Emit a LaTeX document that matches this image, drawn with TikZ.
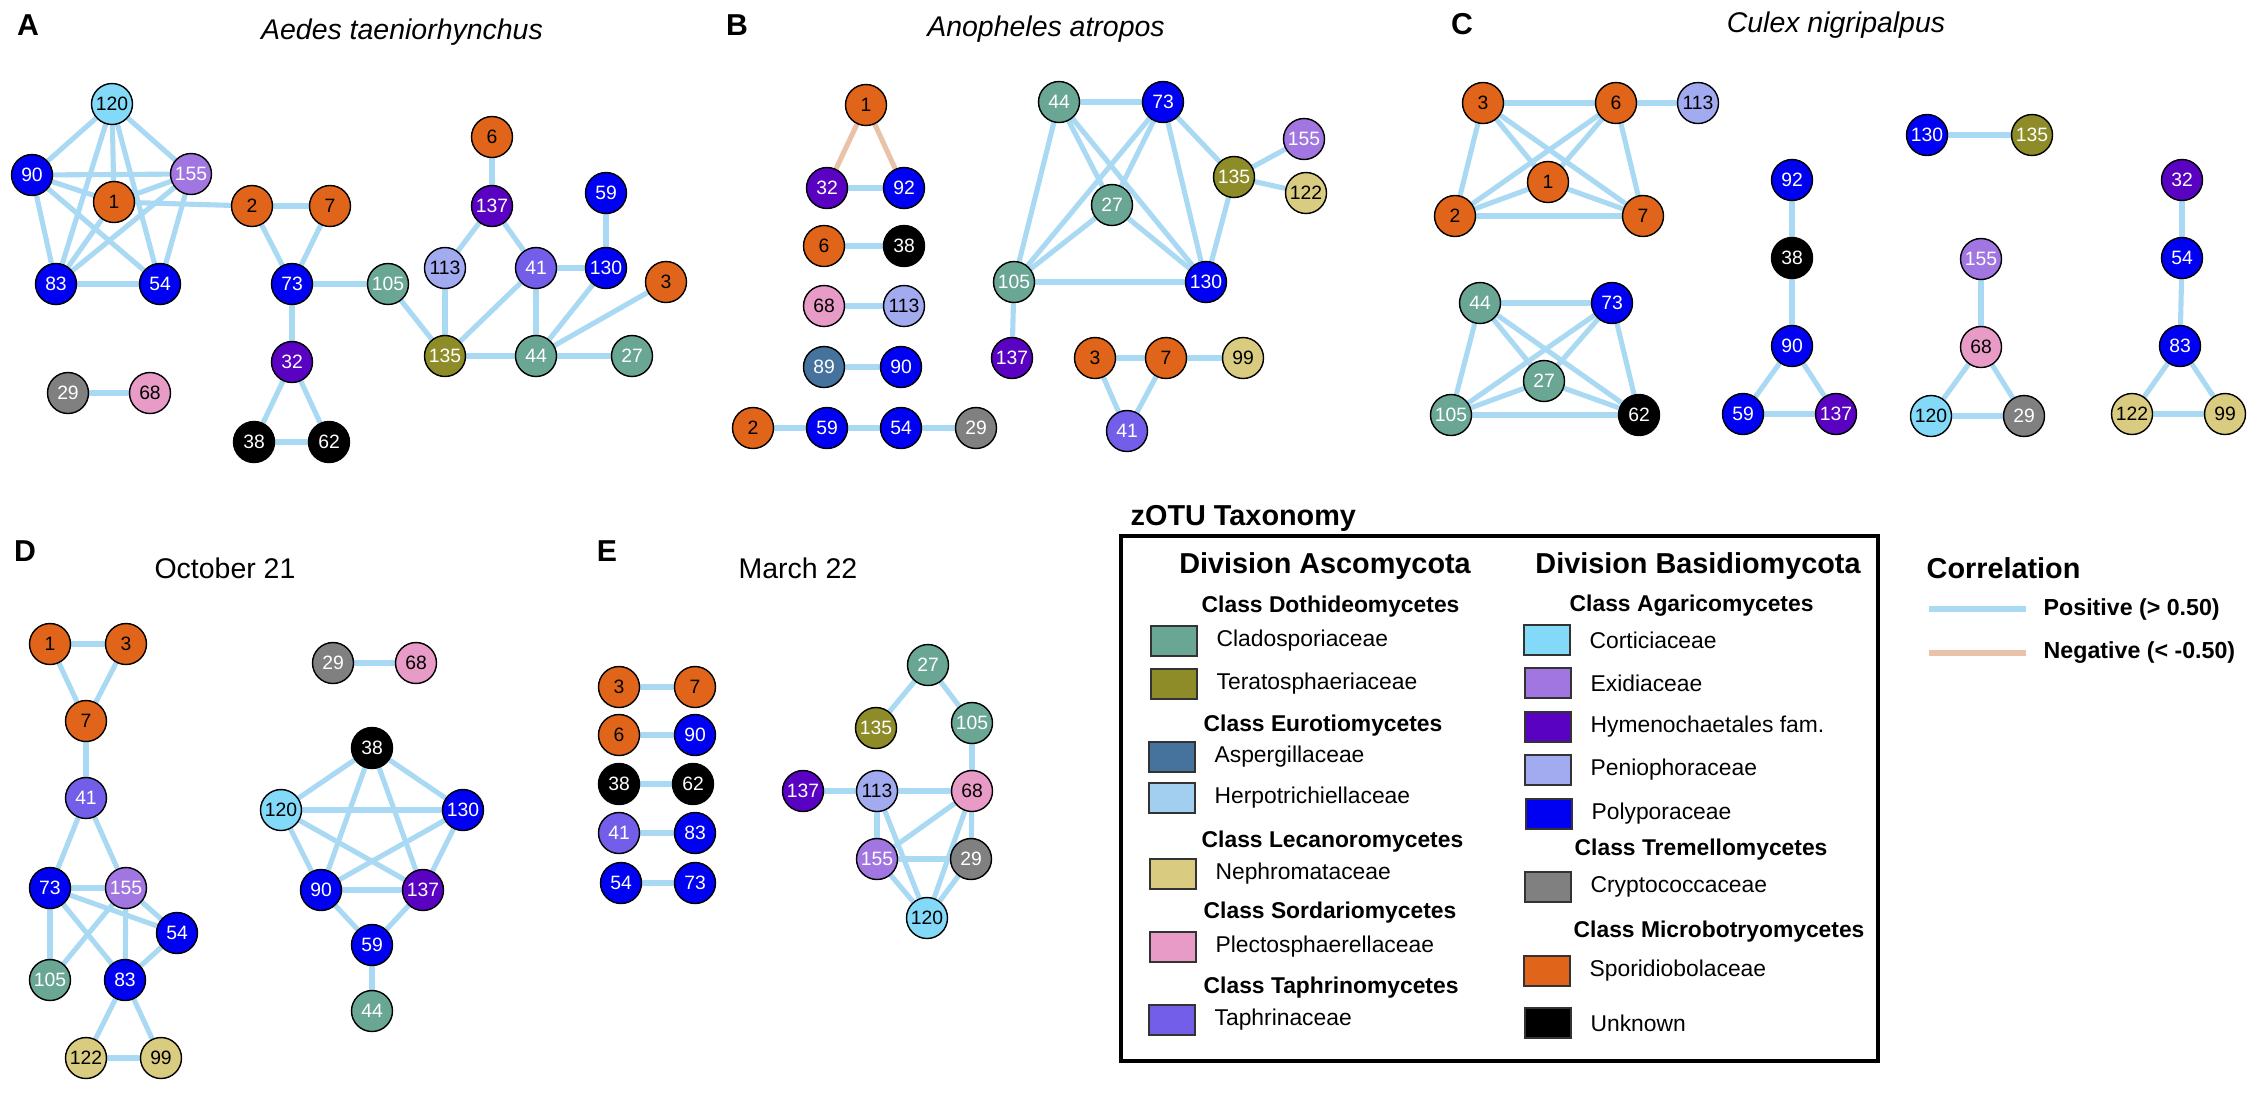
\documentclass[tikz,border=0pt]{standalone}
\usepackage{fontspec}
\setmainfont{Liberation Sans}
\usetikzlibrary{positioning,backgrounds}
\definecolor{cClad}{HTML}{6AA694}
\definecolor{cTera}{HTML}{8E8C28}
\definecolor{cAspe}{HTML}{45739E}
\definecolor{cHerp}{HTML}{A2CFF0}
\definecolor{cNeph}{HTML}{D9CC80}
\definecolor{cPlec}{HTML}{E99BC8}
\definecolor{cTaph}{HTML}{725EE8}
\definecolor{cCort}{HTML}{82D9F8}
\definecolor{cExid}{HTML}{A276E0}
\definecolor{cHyme}{HTML}{5A02C2}
\definecolor{cPeni}{HTML}{A2ABF0}
\definecolor{cPoly}{HTML}{0000F2}
\definecolor{cCryp}{HTML}{808080}
\definecolor{cSpor}{HTML}{E0651A}
\definecolor{cPos}{HTML}{A9D9F3}
\definecolor{cNeg}{HTML}{EAC2AA}
\newcommand\otufont{\fontsize{5.5}{6}\selectfont}
\tikzset{
  otu/.style={circle, draw=black, line width=0.4pt, minimum size=4.1mm, inner sep=0pt, font=\otufont},
  clad/.style={otu, fill=cClad, text=white},
  tera/.style={otu, fill=cTera, text=white},
  aspe/.style={otu, fill=cAspe, text=white},
  neph/.style={otu, fill=cNeph, text=black},
  plec/.style={otu, fill=cPlec, text=black},
  taph/.style={otu, fill=cTaph, text=white},
  cort/.style={otu, fill=cCort, text=black},
  exid/.style={otu, fill=cExid, text=white},
  hyme/.style={otu, fill=cHyme, text=white},
  peni/.style={otu, fill=cPeni, text=black},
  poly/.style={otu, fill=cPoly, text=white},
  cryp/.style={otu, fill=cCryp, text=white},
  spor/.style={otu, fill=cSpor, text=black},
  unkn/.style={otu, fill=black, text=white},
  posedge/.style={draw=cPos, line width=1.45pt},
  negedge/.style={draw=cNeg, line width=1.45pt},
  panel/.style={font=\fontsize{8.6}{10}\selectfont\bfseries},
  ttl/.style={font=\fontsize{8.1}{10}\selectfont\itshape},
  datettl/.style={font=\fontsize{8.1}{10}\selectfont},
  divtxt/.style={font=\fontsize{8.2}{10}\selectfont\bfseries, inner xsep=0pt},
  clstxt/.style={font=\fontsize{6.5}{8}\selectfont\bfseries, anchor=west, inner xsep=0pt},
  famtxt/.style={font=\fontsize{6.5}{8}\selectfont, inner xsep=0pt, right=1.8mm of #1},
  swatch/.style={draw=black!80, line width=0.5pt, minimum width=4.6mm, minimum height=3mm, inner sep=0pt},
  corrtxt/.style={font=\fontsize{6.6}{8}\selectfont\bfseries, anchor=west, inner xsep=0pt},
}

\begin{document}
\begin{tikzpicture}[x=0.1mm, y=-0.1mm]
\useasboundingbox (0,0) rectangle (2262,1092);

\node[panel] (labA) at (28,25) {A};
\node[ttl] (ttlA) at (402,32) {Aedes taeniorhynchus};
\node[cort] (a120) at (112,104) {120};
\node[poly] (a90) at (32,175) {90};
\node[exid] (a155) at (191,174) {155};
\node[spor] (a1) at (114,202) {1};
\node[spor] (a2) at (252,206) {2};
\node[spor] (a7) at (330,206) {7};
\node[poly] (a83) at (56,284) {83};
\node[poly] (a54) at (160,284) {54};
\node[poly] (a73) at (292,284) {73};
\node[clad] (a105) at (388,284) {105};
\node[spor] (a6) at (492,137) {6};
\node[hyme] (a137) at (492,206) {137};
\node[poly] (a59) at (606,193) {59};
\node[peni] (a113) at (445,268) {113};
\node[taph] (a41) at (536,268) {41};
\node[poly] (a130) at (606,268) {130};
\node[spor] (a3) at (666,282) {3};
\node[tera] (a135) at (445,356) {135};
\node[clad] (a44) at (536,356) {44};
\node[clad] (a27) at (632,356) {27};
\node[hyme] (a32) at (292,362) {32};
\node[cryp] (a29) at (68,393) {29};
\node[plec] (a68) at (150,393) {68};
\node[unkn] (a38) at (254,442) {38};
\node[unkn] (a62) at (329,442) {62};

\node[panel] (labB) at (737,25) {B};
\node[ttl] (ttlB) at (1046,29) {Anopheles atropos};
\node[spor] (b1) at (866,105) {1};
\node[hyme] (b32) at (827,188) {32};
\node[poly] (b92) at (904,188) {92};
\node[spor] (b6) at (824,246) {6};
\node[unkn] (b38) at (904,246) {38};
\node[plec] (b68) at (824,306) {68};
\node[peni] (b113) at (904,306) {113};
\node[aspe] (b89) at (824,367) {89};
\node[poly] (b90) at (901,367) {90};
\node[spor] (b2) at (753,428) {2};
\node[poly] (b59) at (827,428) {59};
\node[poly] (b54) at (901,428) {54};
\node[cryp] (b29) at (976,428) {29};
\node[clad] (b44) at (1059,102) {44};
\node[poly] (b73) at (1163,102) {73};
\node[clad] (b27) at (1112,205) {27};
\node[tera] (b135) at (1234,177) {135};
\node[exid] (b155) at (1304,139) {155};
\node[neph] (b122) at (1306,193) {122};
\node[clad] (b105) at (1014,282) {105};
\node[poly] (b130) at (1206,282) {130};
\node[hyme] (b137) at (1012,358) {137};
\node[spor] (b3) at (1095,358) {3};
\node[spor] (b7) at (1166,358) {7};
\node[neph] (b99) at (1243,358) {99};
\node[taph] (b41) at (1127,431) {41};

\node[panel] (labC) at (1462,24) {C};
\node[ttl] (ttlC) at (1836,25) {Culex nigripalpus};
\node[spor] (c3) at (1483,103) {3};
\node[spor] (c6) at (1616,103) {6};
\node[peni] (c113) at (1698,103) {113};
\node[spor] (c1) at (1548,182) {1};
\node[spor] (c2) at (1455,216) {2};
\node[spor] (c7) at (1643,216) {7};
\node[poly] (c130) at (1927,135) {130};
\node[tera] (c135) at (2032,135) {135};
\node[poly] (c92) at (1792,180) {92};
\node[unkn] (c38) at (1792,258) {38};
\node[poly] (c90) at (1792,346) {90};
\node[poly] (c59) at (1743,414) {59};
\node[hyme] (c137) at (1836,414) {137};
\node[exid] (c155) at (1981,259) {155};
\node[plec] (c68) at (1981,347) {68};
\node[cort] (c120) at (1931,416) {120};
\node[cryp] (c29) at (2024,416) {29};
\node[hyme] (c32) at (2182,180) {32};
\node[poly] (c54) at (2182,258) {54};
\node[poly] (c83) at (2180,346) {83};
\node[neph] (c122) at (2132,414) {122};
\node[neph] (c99) at (2225,414) {99};
\node[clad] (c44) at (1480,303) {44};
\node[poly] (c73) at (1612,303) {73};
\node[clad] (c27) at (1544,381) {27};
\node[clad] (c105) at (1451,415) {105};
\node[unkn] (c62) at (1639,415) {62};

\node[panel] (labD) at (25,551) {D};
\node[datettl] (ttlD) at (225,568) {October 21};
\node[spor] (d1) at (50,644) {1};
\node[spor] (d3) at (126,644) {3};
\node[spor] (d7) at (86,721) {7};
\node[taph] (d41) at (86,798) {41};
\node[poly] (d73) at (50,888) {73};
\node[exid] (d155) at (126,888) {155};
\node[poly] (d54) at (177,933) {54};
\node[clad] (d105) at (50,980) {105};
\node[poly] (d83) at (125,980) {83};
\node[neph] (d122) at (86,1058) {122};
\node[neph] (d99) at (161,1058) {99};
\node[cryp] (d29) at (333,663) {29};
\node[plec] (d68) at (416,663) {68};
\node[unkn] (d38) at (372,748) {38};
\node[cort] (d120) at (281,810) {120};
\node[poly] (d130) at (463,810) {130};
\node[poly] (d90) at (321,890) {90};
\node[hyme] (d137) at (423,890) {137};
\node[poly] (d59) at (372,945) {59};
\node[clad] (d44) at (372,1011) {44};

\node[panel] (labE) at (607,551) {E};
\node[datettl] (ttlE) at (798,568) {March 22};
\node[spor] (e3) at (619,687) {3};
\node[spor] (e7) at (695,687) {7};
\node[spor] (e6) at (619,735) {6};
\node[poly] (e90) at (695,735) {90};
\node[unkn] (e38) at (619,784) {38};
\node[unkn] (e62) at (693,784) {62};
\node[taph] (e41) at (619,833) {41};
\node[poly] (e83) at (695,833) {83};
\node[poly] (e54) at (621,883) {54};
\node[poly] (e73) at (695,883) {73};
\node[clad] (e27) at (928,665) {27};
\node[tera] (e135) at (876,728) {135};
\node[clad] (e105) at (972,723) {105};
\node[hyme] (e137) at (803,791) {137};
\node[peni] (e113) at (877,791) {113};
\node[plec] (e68) at (972,791) {68};
\node[exid] (e155) at (877,859) {155};
\node[cryp] (e29) at (971,859) {29};
\node[cort] (e120) at (927,918) {120};

\begin{scope}[on background layer]
\foreach \u/\v in {a120/a90, a120/a155, a120/a1, a120/a83, a120/a54, a90/a155, a90/a1, a90/a83, a90/a54,
  a155/a1, a155/a83, a155/a54, a1/a83, a83/a54, a1/a2, a2/a7, a2/a73, a7/a73, a73/a105, a73/a32,
  a32/a38, a32/a62, a38/a62, a105/a135, a113/a135, a113/a137, a137/a6, a137/a41, a41/a130, a130/a59,
  a41/a135, a41/a44, a135/a44, a44/a27, a44/a130, a44/a3, a29/a68}
  \draw[posedge] (\u) -- (\v);
\foreach \u/\v in {b32/b92, b6/b38, b68/b113, b89/b90, b2/b59, b59/b54, b54/b29, b44/b73, b44/b105,
  b44/b27, b44/b130, b73/b105, b73/b27, b73/b130, b73/b135, b135/b130, b27/b105, b27/b130, b105/b130,
  b105/b137, b135/b155, b135/b122, b3/b7, b7/b99, b3/b41, b7/b41}
  \draw[posedge] (\u) -- (\v);
\draw[negedge] (b1) -- (b32) (b1) -- (b92);
\foreach \u/\v in {c3/c6, c3/c1, c3/c2, c3/c7, c6/c1, c6/c2, c6/c7, c1/c2, c1/c7, c2/c7, c6/c113,
  c130/c135, c92/c38, c38/c90, c90/c59, c90/c137, c59/c137, c155/c68, c68/c120, c68/c29, c120/c29,
  c32/c54, c54/c83, c83/c122, c83/c99, c122/c99, c44/c73, c44/c27, c44/c105, c44/c62, c73/c27,
  c73/c105, c73/c62, c27/c105, c27/c62, c105/c62}
  \draw[posedge] (\u) -- (\v);
\foreach \u/\v in {d1/d3, d1/d7, d3/d7, d7/d41, d41/d73, d41/d155, d73/d155, d73/d54, d73/d105,
  d73/d83, d155/d105, d155/d83, d155/d54, d54/d83, d83/d122, d83/d99, d122/d99, d29/d68,
  d38/d120, d38/d130, d38/d90, d38/d137, d120/d130, d120/d90, d120/d137, d130/d90, d130/d137,
  d90/d137, d90/d59, d137/d59, d59/d44}
  \draw[posedge] (\u) -- (\v);
\foreach \u/\v in {e3/e7, e6/e90, e38/e62, e41/e83, e54/e73, e27/e135, e27/e105, e105/e68,
  e137/e113, e113/e68, e113/e155, e113/e120, e68/e155, e68/e120, e68/e29, e155/e29, e155/e120, e29/e120}
  \draw[posedge] (\u) -- (\v);
\end{scope}

\node[divtxt, anchor=west] (taxttl) at (1130,518) {zOTU Taxonomy};
\draw[line width=1pt] (1121,536) rectangle (1878,1061);
\node[divtxt] (divAsc) at (1325,566) {Division Ascomycota};
\node[divtxt] (divBas) at (1698,566) {Division Basidiomycota};

\node[clstxt] (clDoth) at (1201,607) {Class Dothideomycetes};
\node[swatch, fill=cClad] (sClad) at (1174,641) {};
\node[famtxt=sClad] {Cladosporiaceae};
\node[swatch, fill=cTera] (sTera) at (1174,684) {};
\node[famtxt=sTera] {Teratosphaeriaceae};
\node[clstxt] (clEuro) at (1203,726) {Class Eurotiomycetes};
\node[swatch, fill=cAspe] (sAspe) at (1172,757) {};
\node[famtxt=sAspe] {Aspergillaceae};
\node[swatch, fill=cHerp] (sHerp) at (1172,798) {};
\node[famtxt=sHerp] {Herpotrichiellaceae};
\node[clstxt] (clLeca) at (1201,842) {Class Lecanoromycetes};
\node[swatch, fill=cNeph] (sNeph) at (1173,874) {};
\node[famtxt=sNeph] {Nephromataceae};
\node[clstxt] (clSord) at (1203,913) {Class Sordariomycetes};
\node[swatch, fill=cPlec] (sPlec) at (1173,947) {};
\node[famtxt=sPlec] {Plectosphaerellaceae};
\node[clstxt] (clTaph) at (1203,988) {Class Taphrinomycetes};
\node[swatch, fill=cTaph] (sTaph) at (1172,1020) {};
\node[famtxt=sTaph] {Taphrinaceae};

\node[clstxt] (clAgar) at (1569,606) {Class Agaricomycetes};
\node[swatch, fill=cCort] (sCort) at (1547,640) {};
\node[famtxt=sCort] {Corticiaceae};
\node[swatch, fill=cExid] (sExid) at (1548,683) {};
\node[famtxt=sExid] {Exidiaceae};
\node[swatch, fill=cHyme] (sHyme) at (1548,727) {};
\node[famtxt=sHyme] {Hymenochaetales fam.};
\node[swatch, fill=cPeni] (sPeni) at (1548,770) {};
\node[famtxt=sPeni] {Peniophoraceae};
\node[swatch, fill=cPoly] (sPoly) at (1549,814) {};
\node[famtxt=sPoly] {Polyporaceae};
\node[clstxt] (clTrem) at (1574,850) {Class Tremellomycetes};
\node[swatch, fill=cCryp] (sCryp) at (1548,887) {};
\node[famtxt=sCryp] {Cryptococcaceae};
\node[clstxt] (clMicr) at (1573,932) {Class Microbotryomycetes};
\node[swatch, fill=cSpor] (sSpor) at (1547,971) {};
\node[famtxt=sSpor] {Sporidiobolaceae};
\node[swatch, fill=black] (sUnkn) at (1548,1023) {};
\node[famtxt=sUnkn] {Unknown};

\node[divtxt, anchor=west] (corrttl) at (1926,568) {Correlation};
\coordinate (posL) at (1929,609);
\coordinate (posR) at (2026,609);
\coordinate (negL) at (1929,653);
\coordinate (negR) at (2026,653);
\draw[posedge, line width=1.7pt] (posL) -- (posR);
\draw[negedge, line width=1.7pt] (negL) -- (negR);
\node[corrtxt] (posTxt) at (2043,609) {Positive (> 0.50)};
\node[corrtxt] (negTxt) at (2043,653) {Negative (< -0.50)};
\end{tikzpicture}
\end{document}
